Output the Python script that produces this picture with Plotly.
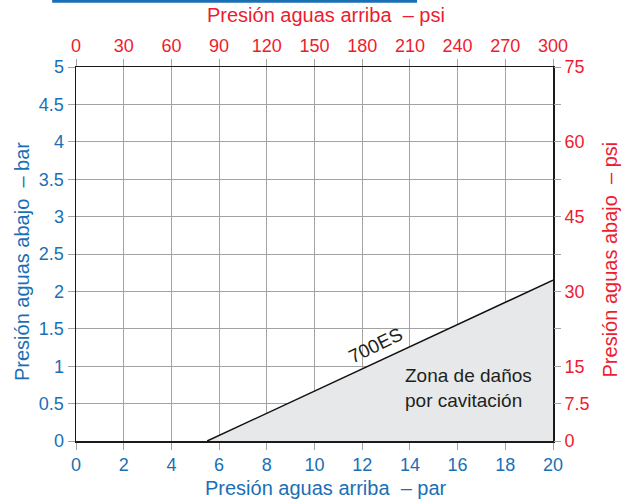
import plotly.graph_objects as go

# Data
line_x = [5.5, 20]          # upstream pressure (bar)
line_y = [0, 2.15]          # downstream pressure (bar)
series_label = "700ES"
zone_label = "Zona de daños<br>por cavitación"

x_ticks = [0, 2, 4, 6, 8, 10, 12, 14, 16, 18, 20]
x2_ticks = [0, 30, 60, 90, 120, 150, 180, 210, 240, 270, 300]
y_ticks = [0, 0.5, 1, 1.5, 2, 2.5, 3, 3.5, 4, 4.5, 5]
y_ticklabels = ["0", "0.5", "1", "1.5", "2", "2.5", "3", "3.5", "4", "4.5", "5"]
y2_ticks = [0, 7.5, 15, 22.5, 30, 37.5, 45, 52.5, 60, 67.5, 75]
y2_ticklabels = ["0", "7.5", "15", "", "30", "", "45", "", "60", "", "75"]

BLUE = "#1a6fb5"
RED = "#ed1c2e"
GRID = "#a3a3a3"
FONT = "Liberation Sans, Arial, sans-serif"
TXT = "#231f20"

fig = go.Figure()

# cavitation zone fill
fig.add_trace(go.Scatter(
    x=[line_x[0], line_x[1], line_x[1], line_x[0]],
    y=[line_y[0], line_y[1], 0, 0],
    fill="toself", fillcolor="#e7e8ea", mode="none",
    hoverinfo="skip", showlegend=False))

fig.add_trace(go.Scatter(
    x=line_x, y=line_y, mode="lines",
    line=dict(color="#111111", width=1.5),
    showlegend=False, name=series_label))

# invisible trace to activate secondary axes
fig.add_trace(go.Scatter(x=[x2_ticks[0], x2_ticks[-1]], y=[y2_ticks[0], y2_ticks[-1]],
                         xaxis="x2", yaxis="y2", mode="markers",
                         marker=dict(opacity=0), hoverinfo="skip", showlegend=False))

tickfont_blue = dict(family=FONT, size=18, color=BLUE)
tickfont_red = dict(family=FONT, size=18, color=RED)

common = dict(automargin=False, zeroline=False, ticks="outside", ticklen=7,
              tickcolor=GRID, tickwidth=1)

fig.update_layout(
    width=625, height=500,
    margin=dict(l=76, r=72, t=67, b=59),
    paper_bgcolor="white", plot_bgcolor="white",
    font=dict(family=FONT),
    xaxis=dict(
        range=[0, 20], tickvals=x_ticks, ticktext=[str(v) for v in x_ticks],
        showgrid=True, gridcolor=GRID, gridwidth=1,
        showline=True, linecolor="#1a1a1a", linewidth=1.5, mirror=True,
        tickfont=tickfont_blue, **common,
    ),
    xaxis2=dict(
        range=[0, 300], tickvals=x2_ticks, ticktext=[str(v) for v in x2_ticks],
        overlaying="x", side="top", showgrid=False,
        tickfont=tickfont_red, **common,
    ),
    yaxis=dict(
        range=[0, 5], tickvals=y_ticks, ticktext=y_ticklabels,
        showgrid=True, gridcolor=GRID, gridwidth=1,
        showline=True, linecolor="#1a1a1a", linewidth=1.5, mirror=True,
        tickfont=tickfont_blue, **common,
    ),
    yaxis2=dict(
        range=[0, 75], tickvals=y2_ticks, ticktext=y2_ticklabels,
        overlaying="y", side="right", showgrid=False,
        tickfont=tickfont_red, **common,
    ),
    annotations=[
        dict(x=12.55, y=1.28, xref="x", yref="y", text=series_label, showarrow=False,
             textangle=-26, font=dict(family=FONT, size=19, color=TXT)),
        dict(x=13.7, y=0.71, xref="x", yref="y", text=zone_label, showarrow=False,
             xanchor="left", yanchor="middle", align="left",
             font=dict(family=FONT, size=19, color=TXT)),
        # axis titles
        dict(x=0.525, y=1.14, xref="paper", yref="paper", text="Presión aguas arriba  – psi",
             showarrow=False, xanchor="center", yanchor="middle",
             font=dict(family=FONT, size=20, color=RED)),
        dict(x=0.525, y=-0.126, xref="paper", yref="paper", text="Presión aguas arriba  – par",
             showarrow=False, xanchor="center", yanchor="middle",
             font=dict(family=FONT, size=20, color=BLUE)),
        dict(x=-0.112, y=0.48, xref="paper", yref="paper", text="Presión aguas abajo  – bar",
             showarrow=False, xanchor="center", yanchor="middle", textangle=-90,
             font=dict(family=FONT, size=20, color=BLUE)),
        dict(x=1.12, y=0.486, xref="paper", yref="paper", text="Presión aguas abajo  – psi",
             showarrow=False, xanchor="center", yanchor="middle", textangle=-90,
             font=dict(family=FONT, size=20, color=RED)),
    ],
    shapes=[
        dict(type="line", xref="paper", yref="paper", x0=-0.05, x1=0.715, y0=1.176, y1=1.176,
             line=dict(color=BLUE, width=3)),
    ],
)

# remove the browser's default body margin so the 625x500 figure fills the window
fig.write_html("out.html", config={"displayModeBar": False, "staticPlot": True},
               post_script="document.body.style.margin='0';document.body.style.overflow='hidden';")
